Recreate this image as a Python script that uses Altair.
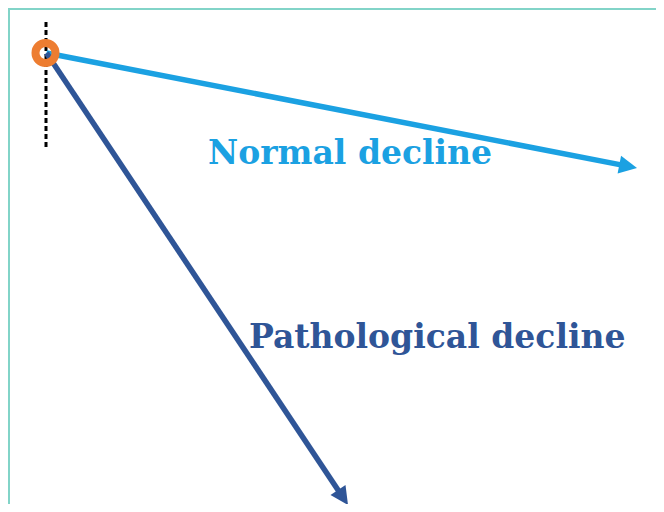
import math
import altair as alt
import pandas as pd

W, H = 648, 496

# Diagram data (chart units = pixels of the drawing area, y grows downward)
series = ["Normal decline", "Pathological decline"]
series_colors = ["#1BA1E2", "#2F5597"]
start_x = [38.5, 38.5]
start_y = [45, 45]
tip_x = [629, 340]
tip_y = [160, 497]
label_x = [200, 241]
label_y = [156, 340]

origin_x = [37.5]
origin_y = [45]

dash_x = [38]
dash_y = [14]
dash_y2 = [139]

border_x = [0, 1]
border_y = [1, 0]
border_x2 = [W + 10, 1]
border_y2 = [1, H + 10]

HEAD_LEN = 18

rows = []
for s, c, sx, sy, tx, ty, lx, ly in zip(series, series_colors, start_x, start_y,
                                         tip_x, tip_y, label_x, label_y):
    ang = math.atan2(ty - sy, tx - sx)
    rows.append(dict(series=s, color=c, sx=sx, sy=sy, tx=tx, ty=ty,
                     ex=tx - (HEAD_LEN - 3) * math.cos(ang),
                     ey=ty - (HEAD_LEN - 3) * math.sin(ang),
                     angle=math.degrees(ang), lx=lx, ly=ly))
df = pd.DataFrame(rows)

xs = alt.Scale(domain=[0, W], nice=False, zero=False)
ys = alt.Scale(domain=[0, H], nice=False, zero=False, reverse=True)

def X(f):
    return alt.X(f, type="quantitative", scale=xs, axis=None)

def Y(f):
    return alt.Y(f, type="quantitative", scale=ys, axis=None)

border = alt.Chart(pd.DataFrame(dict(x=border_x, y=border_y, x2=border_x2, y2=border_y2))).mark_rule(
    color="#82D4C8", strokeWidth=2
).encode(x=X("x"), y=Y("y"), x2="x2", y2="y2")

dash = alt.Chart(pd.DataFrame(dict(x=dash_x, y=dash_y, y2=dash_y2))).mark_rule(
    color="black", strokeWidth=3, strokeDash=[5, 3]
).encode(x=X("x"), y=Y("y"), y2="y2")

shafts = alt.Chart(df).mark_rule(strokeWidth=5.5).encode(
    x=X("sx"), y=Y("sy"), x2="ex", y2="ey",
    color=alt.Color("color:N", scale=None),
)

heads = alt.Chart(df).mark_point(
    shape="M0,0 L-2,-1 L-2,1 Z", filled=True, size=HEAD_LEN ** 2, opacity=1
).encode(
    x=X("tx"), y=Y("ty"),
    angle=alt.Angle("angle:Q", scale=None),
    color=alt.Color("color:N", scale=None),
)

circle = alt.Chart(pd.DataFrame(dict(x=origin_x, y=origin_y))).mark_point(
    shape="circle", filled=False, size=400, strokeWidth=8, color="#ED7D31", opacity=1
).encode(x=X("x"), y=Y("y"))

labels = alt.Chart(df).mark_text(
    align="left", baseline="alphabetic", font="DejaVu Serif", fontWeight="bold", fontSize=33
).encode(
    x=X("lx"), y=Y("ly"), text="series:N",
    color=alt.Color("color:N", scale=None),
)

chart = alt.layer(border, dash, shafts, heads, circle, labels).properties(
    width=W, height=H, padding=0, autosize=alt.AutoSizeParams(type="none")
).configure_view(stroke="transparent", strokeWidth=0).configure(background="white")

chart.save("out.html", embed_options={"renderer": "svg", "actions": False})
